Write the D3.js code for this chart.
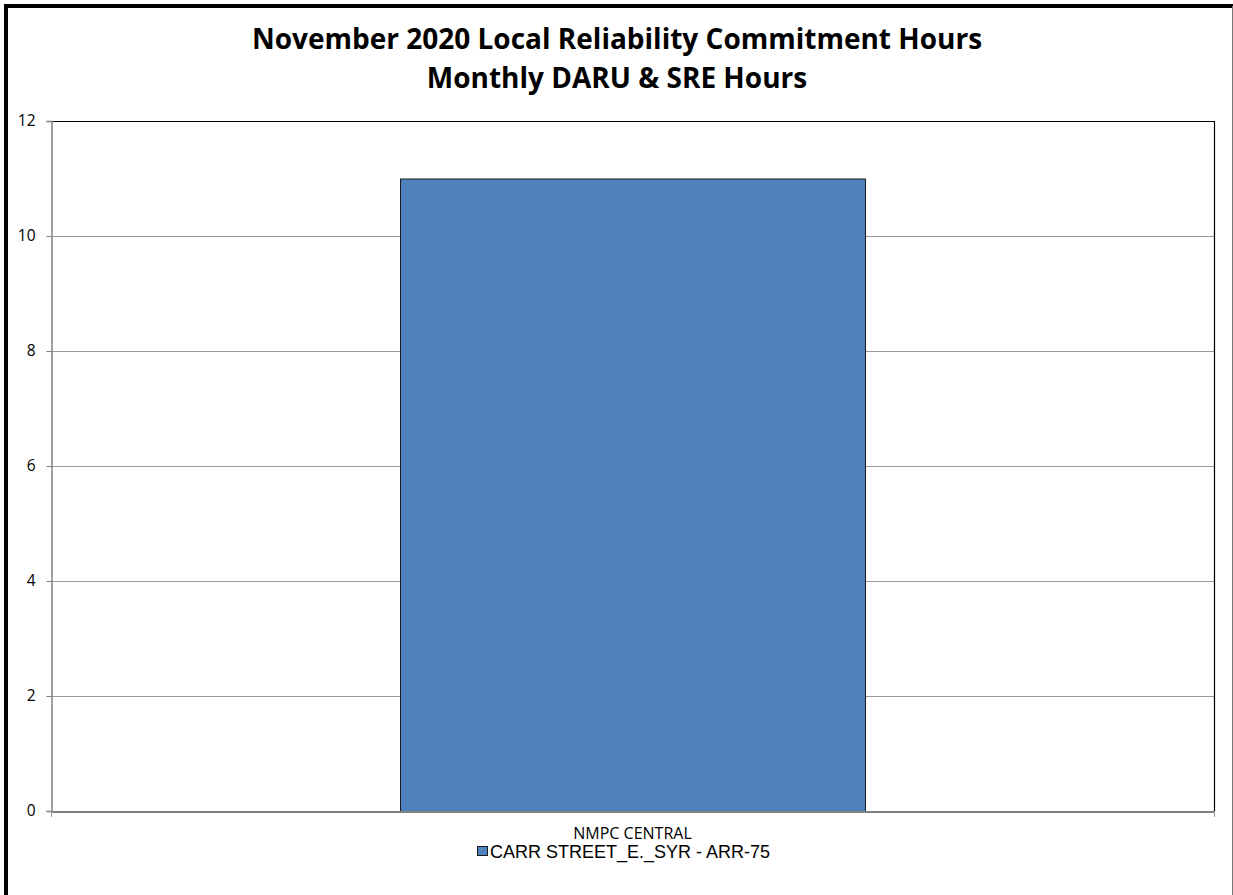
<!DOCTYPE html>
<html><head><meta charset="utf-8">
<script src="https://cdn.jsdelivr.net/npm/d3@7"></script>
<style>html,body{margin:0;padding:0;background:#fff;}svg{display:block;}</style>
</head><body>
<svg id="c" width="1233" height="895"></svg>
<script>
const titleLines = ["November 2020 Local Reliability Commitment Hours", "Monthly DARU & SRE Hours"];
const categories = ["NMPC CENTRAL"];
const seriesName = "CARR STREET_E._SYR - ARR-75";
const seriesValues = [11];
const yTicks = [0, 2, 4, 6, 8, 10, 12];

const svg = d3.select("#c");
const W = 1233, H = 895;
svg.append("rect").attr("width", W).attr("height", H).attr("fill", "#fff");
// outer border
svg.append("path").attr("d", `M6,${H} V6 H${W}`).attr("fill", "none").attr("stroke", "#000").attr("stroke-width", 4);
svg.append("line").attr("x1", 1232.5).attr("x2", 1232.5).attr("y1", 6).attr("y2", H).attr("stroke", "#777").attr("stroke-width", 1);

const m = {left: 51, right: 1214, top: 121, bottom: 811};
const x = d3.scaleBand().domain(categories).range([m.left, m.right]).paddingInner(0).paddingOuter(0);
const y = d3.scaleLinear().domain([0, 12]).range([m.bottom, m.top]);

const font = "'Liberation Sans', Arial, sans-serif";
const cal = "'Open Sans', 'Liberation Sans', sans-serif";

// title
svg.append("text").attr("x", 617).attr("y", 0).attr("text-anchor", "middle")
  .attr("font-family", cal).attr("font-weight", "bold").attr("font-size", 28)
  .attr("fill", "#000")
  .selectAll("tspan").data(titleLines).join("tspan")
  .attr("x", 617).attr("y", (d, i) => 49 + i * 39).text(d => d);

// gridlines
svg.append("g").selectAll("line").data(yTicks.filter(t => t > 0 && t < 12)).join("line")
  .attr("x1", m.left).attr("x2", m.right)
  .attr("y1", d => Math.round(y(d)) + 0.5).attr("y2", d => Math.round(y(d)) + 0.5)
  .attr("stroke", "#999").attr("stroke-width", 1);

// bars
const barW = 465;
svg.append("g").selectAll("rect").data(seriesValues).join("rect")
  .attr("x", (d, i) => x(categories[i]) + x.bandwidth() / 2 - barW / 2 + 0.5)
  .attr("y", d => y(d) + 0.5)
  .attr("width", barW)
  .attr("height", d => y(0) - y(d))
  .attr("fill", "#4f81bd").attr("stroke", "#1a1a1a").attr("stroke-width", 1);

// plot border top/right
svg.append("path").attr("d", `M${m.left},${m.top + 0.5} H${m.right + 0.5} V${m.bottom}`)
  .attr("fill", "none").attr("stroke", "#000").attr("stroke-width", 1.2);

// y axis
const ya = svg.append("g").attr("transform", `translate(${m.left + 0.5},0)`)
  .call(d3.axisLeft(y).tickValues(yTicks).tickSize(5).tickPadding(11));
ya.select(".domain").attr("stroke", "#808080").attr("stroke-width", 1.5);
ya.selectAll(".tick line").attr("stroke", "#808080");
ya.selectAll("text").attr("font-family", cal).attr("font-size", 15.5).attr("fill", "#000");

// x axis
const xa = svg.append("g").attr("transform", `translate(0,${m.bottom + 0.5})`)
  .call(d3.axisBottom(x).tickSize(0).tickPadding(16));
xa.select(".domain").attr("stroke", "#808080").attr("stroke-width", 2);
xa.selectAll("text").attr("font-family", cal).attr("font-size", 16).attr("fill", "#000");
// category boundary ticks
svg.append("g").selectAll("line").data([m.left, m.right]).join("line")
  .attr("x1", d => d + 0.5).attr("x2", d => d + 0.5)
  .attr("y1", m.bottom).attr("y2", m.bottom + 6).attr("stroke", "#999");

// legend
const lg = svg.append("g").attr("transform", "translate(477,851)");
lg.append("rect").attr("x", 0.5).attr("y", -4.5).attr("width", 10).attr("height", 9)
  .attr("fill", "#4f81bd").attr("stroke", "#1a1a1a");
lg.append("text").attr("x", 13).attr("y", 6.5).attr("font-family", font).attr("font-size", 18)
  .text(seriesName);
</script>
</body></html>
